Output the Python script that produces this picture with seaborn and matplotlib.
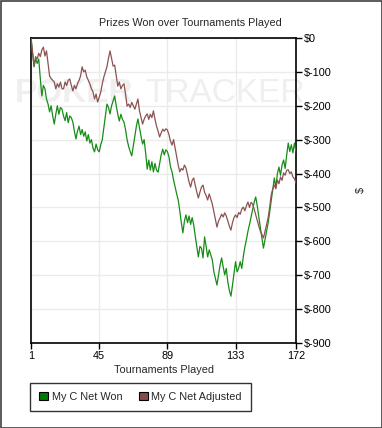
import matplotlib
matplotlib.use("Agg")
import matplotlib.pyplot as plt
from matplotlib.patches import Patch
import seaborn as sns
import pandas as pd

tournaments = list(range(1, 173))
net_won = [
    0, -45, -85, -60, -75, -62, -120, -171, -140, -150,
    -180, -195, -218, -200, -230, -254, -225, -200, -225, -205,
    -210, -230, -244, -220, -250, -230, -235, -248, -275, -298,
    -275, -260, -285, -270, -290, -277, -304, -285, -310, -300,
    -325, -336, -313, -330, -336, -315, -300, -265, -230, -195,
    -205, -224, -200, -185, -171, -200, -225, -245, -225, -240,
    -248, -270, -300, -320, -335, -348, -320, -290, -260, -239,
    -265, -290, -313, -300, -340, -387, -360, -390, -365, -395,
    -370, -390, -396, -370, -345, -328, -345, -330, -335, -350,
    -380, -395, -419, -440, -460, -478, -510, -545, -575, -540,
    -522, -545, -525, -550, -530, -552, -585, -615, -646, -615,
    -620, -649, -587, -615, -646, -625, -640, -655, -690, -710,
    -729, -700, -670, -649, -675, -699, -680, -720, -745, -762,
    -730, -695, -660, -690, -679, -660, -680, -645, -617, -595,
    -570, -550, -528, -505, -485, -469, -495, -528, -560, -590,
    -620, -595, -570, -546, -515, -480, -448, -413, -440, -400,
    -381, -405, -375, -360, -385, -345, -310, -335, -315, -339,
    -310, -336,
]
net_adjusted = [
    0, -40, -82, -55, -62, -45, -55, -35, -27, -53,
    -38, -75, -112, -120, -125, -130, -150, -135, -145, -130,
    -150, -150, -130, -140, -125, -121, -140, -156, -140, -150,
    -135, -125, -112, -85, -100, -95, -115, -125, -136, -150,
    -159, -180, -165, -189, -175, -160, -135, -115, -100, -85,
    -60, -38, -60, -83, -80, -110, -142, -130, -150, -140,
    -135, -165, -201, -195, -205, -190, -200, -210, -195, -180,
    -215, -235, -254, -240, -230, -224, -240, -225, -235, -215,
    -240, -260, -275, -292, -280, -269, -275, -268, -271, -285,
    -304, -316, -300, -325, -351, -375, -395, -385, -390, -375,
    -384, -405, -425, -440, -420, -413, -435, -455, -472, -455,
    -440, -434, -455, -465, -478, -460, -475, -490, -513, -535,
    -558, -540, -531, -520, -528, -516, -525, -540, -555, -567,
    -545, -530, -522, -530, -515, -520, -505, -499, -510, -495,
    -484, -500, -485, -490, -505, -522, -540, -555, -570, -580,
    -590, -570, -550, -531, -500, -463, -445, -434, -445, -419,
    -430, -410, -420, -398, -405, -390, -389, -400, -395, -410,
    -415, -428,
]
series_names = ["My C Net Won", "My C Net Adjusted"]
x_ticks = [1, 45, 89, 133, 172]
y_ticks = [0, -100, -200, -300, -400, -500, -600, -700, -800, -900]
y_tick_labels = ["$0", "$-100", "$-200", "$-300", "$-400", "$-500",
                 "$-600", "$-700", "$-800", "$-900"]

sns.set_style("white")
plt.rcParams["font.family"] = ["Liberation Sans", "DejaVu Sans"]

df = pd.DataFrame({
    "Tournament": tournaments * 2,
    "Value": net_won + net_adjusted,
    "Series": [series_names[0]] * len(tournaments) + [series_names[1]] * len(tournaments),
})

colors = {series_names[0]: "#178c17", series_names[1]: "#8c5252"}
legend_colors = {series_names[0]: "#007a00", series_names[1]: "#8a4a4a"}

fig = plt.figure(figsize=(3.82, 4.28), dpi=100)
fig.patch.set_facecolor("white")
ax = fig.add_axes([31 / 382, 1 - 343 / 428, 265 / 382, 305 / 428])
ax.patch.set_alpha(0)
ax.set_zorder(2)

# watermark (behind everything)
fig.text(15 / 382, 1 - 102 / 428, "POKER", fontsize=24, fontweight="bold",
         color="#efefef", zorder=-5, ha="left", va="baseline")
fig.text(145 / 382, 1 - 102 / 428, "TRACKER", fontsize=24,
         color="#efefef", zorder=-5, ha="left", va="baseline")

sns.lineplot(data=df, x="Tournament", y="Value", hue="Series",
             palette=colors, linewidth=0.9, ax=ax, legend=False, zorder=3)

ax.set_xlim(1, 172)
ax.set_ylim(-900, 0)
ax.set_xticks(x_ticks)
ax.set_xticklabels([str(t) for t in x_ticks], fontsize=7.8)
ax.set_yticks(y_ticks)
ax.set_yticklabels(y_tick_labels, fontsize=7.8)
ax.yaxis.tick_right()
ax.yaxis.set_label_position("right")
ax.tick_params(axis="both", direction="out", length=4, width=1, color="black",
               pad=2, labelcolor="black")
ax.tick_params(axis="y", left=False, right=True)
ax.tick_params(axis="x", bottom=True, top=False)
ax.grid(True, color="#ebebeb", linewidth=1, zorder=1)
ax.set_axisbelow(True)
for s in ax.spines.values():
    s.set_color("black")
    s.set_linewidth(1.2)
    s.set_visible(True)

ax.set_xlabel("Tournaments Played", fontsize=7.8, labelpad=3)
ax.set_ylabel("$", fontsize=7.8, rotation=90, labelpad=17)
ax.set_title("Prizes Won over Tournaments Played", fontsize=7.8, pad=9,
             x=(190 - 31) / 265)

handles = [Patch(facecolor=legend_colors[n], edgecolor="black", linewidth=0.8, label=n)
           for n in series_names]
leg = fig.legend(handles=handles, loc="lower left",
                 bbox_to_anchor=(30 / 382, 1 - 411 / 428, 221 / 382, 29 / 428),
                 mode="expand", ncol=2, fontsize=7.8, frameon=True, fancybox=False,
                 handlelength=0.8, handleheight=0.8, handletextpad=0.35,
                 borderaxespad=0, borderpad=0.85, columnspacing=1.5)
leg.get_frame().set_edgecolor("black")
leg.get_frame().set_linewidth(1.0)

# outer border
fig.add_artist(plt.Rectangle((0.5 / 382, 0.5 / 428), 1 - 1 / 382, 1 - 1 / 428,
                             transform=fig.transFigure, fill=False,
                             edgecolor="#404040", linewidth=1.2))

fig.savefig("out.png", dpi=100, facecolor="white")
